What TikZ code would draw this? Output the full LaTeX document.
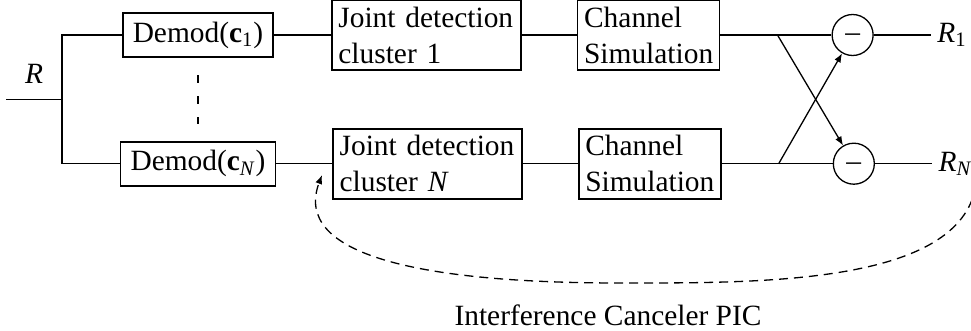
\documentclass[tikz,border=0pt]{standalone}
\usepackage{fontspec}
\setmainfont{Liberation Serif}
\usetikzlibrary{arrows.meta, positioning, calc}

\begin{document}
\begin{tikzpicture}[
  x=0.5pt, y=-0.5pt,
  font=\fontsize{14.7pt}{18pt}\selectfont,
  line width=0.65pt,
  block/.style={draw, line width=0.85pt, inner xsep=5pt, inner ysep=0pt, minimum height=22pt},
  stage/.style={draw, line width=0.85pt, align=left, inner xsep=3.25pt, inner ysep=0pt, minimum height=35pt},
  sub/.style={draw, circle, inner sep=0pt, minimum size=20.5pt},
  arrow/.style={-{Latex[length=4.5pt, width=3.5pt]}},
  lbl/.style={inner sep=0pt},
]
\useasboundingbox (0,0) rectangle (971,331);

% Demodulators
\node[block] (dem1) at (198,35) {Demod(\textbf{c}\textsubscript{1})};
\node[block, below=41.5pt of dem1] (demN) {Demod(\textbf{c}\textsubscript{\textit{N}})};

% Upper branch
\node[stage, text width=88pt, right=28.5pt of dem1] (jd1) {Joint detection\\cluster 1};
\node[stage, text width=64.5pt, right=27.5pt of jd1] (cs1) {Channel\\Simulation};
\node[sub, right=55.5pt of cs1] (sub1) {\raisebox{-3.3pt}[0pt][0pt]{\textendash}};

% Lower branch
\node[stage, text width=88pt, right=28pt of demN] (jdN) {Joint detection\\cluster \textit{N}};
\node[stage, text width=64.5pt, right=27.5pt of jdN] (csN) {Channel\\Simulation};
\node[sub, right=55.5pt of csN] (subN) {\raisebox{-3.3pt}[0pt][0pt]{\textendash}};

% Input and split
\coordinate (split) at ($(dem1.west)!0.5!(demN.west)+(-58.7,0)$);
\coordinate (in) at ($(split)+(-56,0)$);
\node[lbl, anchor=base] (rin) at ($(in)!0.5!(split)+(0,-16)$) {\textit{R}};
\draw (in) -- (split);
\draw (dem1.west) -| (split) |- (demN.west);
\draw[dash pattern=on 4pt off 6.5pt, shorten <=8.8pt, shorten >=8.5pt] (dem1.south) -- (demN.north);

% Chains
\draw (dem1) -- (jd1);
\draw (jd1) -- (cs1);
\draw (cs1) -- (sub1);
\draw (demN) -- (jdN);
\draw (jdN) -- (csN);
\draw (csN) -- (subN);

% Cross coupling
\coordinate[right=28.5pt of cs1.east] (tap1);
\coordinate[right=28.5pt of csN.east] (tapN);
\draw[arrow] (tap1) -- (subN);
\draw[arrow] (tapN) -- (sub1);

% Outputs
\coordinate[right=28.5pt of sub1] (out1);
\coordinate[right=28.5pt of subN] (outN);
\draw (sub1) -- (out1);
\draw (subN) -- (outN);
\node[lbl, right=3pt of out1] (r1) {\textit{R}\textsubscript{1}};
\node[lbl, right=3pt of outN] (rN) {\textit{R}\textsubscript{\textit{N}}};

% Feedback loop
\coordinate (fbstart) at (976,185);
\coordinate (fbend) at (322,175);
\draw[arrow, dash pattern=on 4.5pt off 3pt] (fbstart) .. controls (960,285) and (760,283) .. (620,283)
  .. controls (420,283) and (292,255) .. (fbend);
\node[lbl, anchor=base] (piclab) at (608,326) {Interference Canceler PIC};

\end{tikzpicture}
\end{document}
